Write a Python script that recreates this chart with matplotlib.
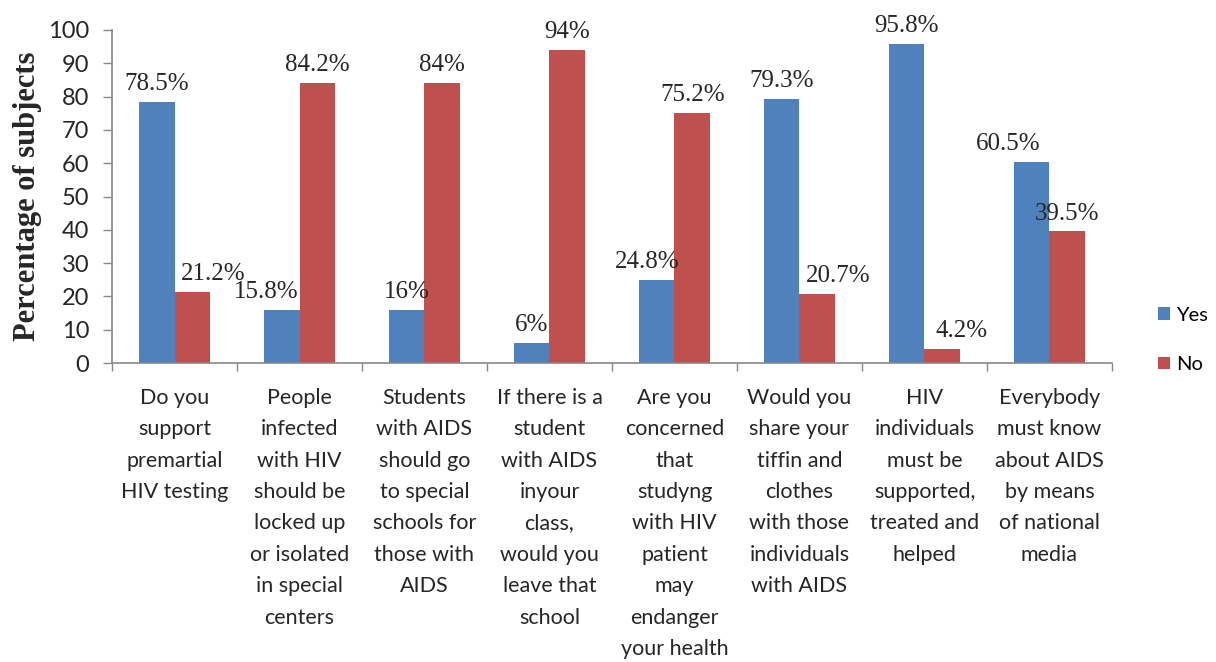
import matplotlib
matplotlib.use("Agg")
import matplotlib.pyplot as plt
import numpy as np

categories = [
    "Do you\nsupport\npremartial\nHIV testing",
    "People\ninfected\nwith HIV\nshould be\nlocked up\nor isolated\nin special\ncenters",
    "Students\nwith AIDS\nshould go\nto special\nschools for\nthose with\nAIDS",
    "If there is a\nstudent\nwith AIDS\ninyour\nclass,\nwould you\nleave that\nschool",
    "Are you\nconcerned\nthat\nstudyng\nwith HIV\npatient\nmay\nendanger\nyour health",
    "Would you\nshare your\ntiffin and\nclothes\nwith those\nindividuals\nwith AIDS",
    "HIV\nindividuals\nmust be\nsupported,\ntreated and\nhelped",
    "Everybody\nmust know\nabout AIDS\nby means\nof national\nmedia",
]
yes_values = [78.5, 15.8, 16, 6, 24.8, 79.3, 95.8, 60.5]
no_values = [21.2, 84.2, 84, 94, 75.2, 20.7, 4.2, 39.5]
yes_labels = ["78.5%", "15.8%", "16%", "6%", "24.8%", "79.3%", "95.8%", "60.5%"]
no_labels = ["21.2%", "84.2%", "84%", "94%", "75.2%", "20.7%", "4.2%", "39.5%"]
series_names = ["Yes", "No"]
y_ticks = [0, 10, 20, 30, 40, 50, 60, 70, 80, 90, 100]

# manual label nudges (in points) as in the original
yes_dx = [0, -11, 0, 0, -7, 0, 0, -17]
no_dx = [15, 0, 0, 0, 0, 15, 14, 0]

BLUE = "#4F81BD"
RED = "#C0504D"
SANS = ["Lato", "DejaVu Sans"]
SERIF = ["Liberation Serif", "DejaVu Serif"]

fig = plt.figure(figsize=(12.16, 6.62), dpi=100)
ax = fig.add_axes([112/1216, 1 - 363/662, 1000/1216, 333/662])

x = np.arange(len(categories))
w = 0.285
b1 = ax.bar(x - w/2, yes_values, w, color=BLUE, label=series_names[0])
b2 = ax.bar(x + w/2, no_values, w, color=RED, label=series_names[1])

for rect, lab, dx in zip(b1, yes_labels, yes_dx):
    ax.annotate(lab, (rect.get_x() + rect.get_width()/2, rect.get_height()),
                xytext=(dx, 5), textcoords="offset points", ha="center", va="bottom",
                fontsize=18, family=SERIF, color="#262626")
for rect, lab, dx in zip(b2, no_labels, no_dx):
    ax.annotate(lab, (rect.get_x() + rect.get_width()/2, rect.get_height()),
                xytext=(dx, 5), textcoords="offset points", ha="center", va="bottom",
                fontsize=18, family=SERIF, color="#262626")

ax.set_xlim(-0.5, len(categories) - 0.5)
ax.set_ylim(0, 100)
ax.set_yticks(y_ticks)
ax.set_yticklabels([str(t) for t in y_ticks], family=SANS, fontsize=17, color="#262626")
ax.set_xticks(x)
ax.set_xticklabels(categories, family=SANS, fontsize=15.5, color="#262626",
                   linespacing=1.71, ha="center", multialignment="center")
ax.tick_params(axis="x", length=0, pad=18)
ax.set_xticks(np.arange(len(categories) + 1) - 0.5, minor=True)
ax.tick_params(axis="x", which="minor", length=6, color="#888888", width=1)
ax.tick_params(axis="y", length=6.5, color="#888888", width=1, pad=10)

for s in ["top", "right"]:
    ax.spines[s].set_visible(False)
for s in ["left", "bottom"]:
    ax.spines[s].set_color("#888888")
    ax.spines[s].set_linewidth(1.2)

ax.set_ylabel("Percentage of subjects", family=SERIF, fontsize=22, fontweight="bold",
              color="#262626", labelpad=4)

fig.legend(handles=[b1, b2], labels=series_names, loc="center left",
           bbox_to_anchor=(1150/1216, 1 - 340/662), frameon=False,
           prop={"family": SANS, "size": 14.5}, handlelength=0.6, handleheight=0.6,
           handletextpad=0.3, labelspacing=1.6, borderaxespad=0)

fig.savefig("out.png", dpi=100, facecolor="white")
